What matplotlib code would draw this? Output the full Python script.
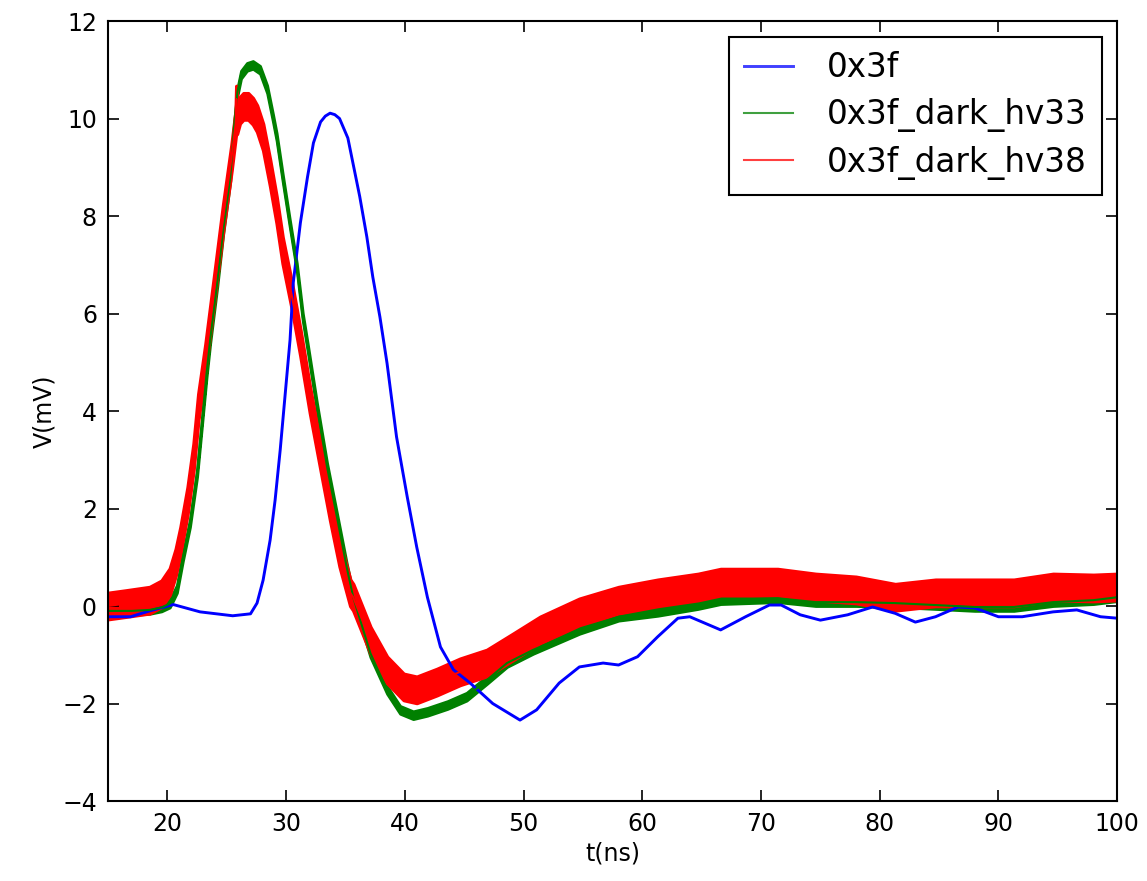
import numpy as np
import matplotlib
matplotlib.use('Agg')
import matplotlib.pyplot as plt

# 0x3f (blue)
t_blue = [15, 16.9, 18.5, 20.5, 22.75, 25.5, 27, 27.55, 28.06, 28.65, 29.07, 29.5, 29.9,
          30.33, 30.6, 31.2, 31.8, 32.3, 32.9, 33.3, 33.7, 34.1, 34.5, 35.2, 35.7, 36.2,
          36.8, 37.3, 37.9, 38.5, 39.3, 40.2, 41.0, 41.9, 43.0, 44.1, 45.5, 47.4, 49.7,
          51.1, 53.0, 54.7, 56.7, 58.0, 59.6, 61.3, 63.0, 64.0, 66.6, 68.7, 70.7, 71.7,
          73.3, 75.0, 77.3, 79.4, 81.3, 83.0, 84.7, 86.6, 88.0, 90.0, 92.0, 94.6, 96.6,
          98.6, 100]
v_blue = [-0.22, -0.22, -0.1, 0.03, -0.12, -0.2, -0.16, 0.06, 0.53, 1.35, 2.17, 3.2, 4.29,
          5.46, 6.63, 7.86, 8.8, 9.5, 9.93, 10.05, 10.11, 10.08, 10.0, 9.6, 9.0, 8.4,
          7.57, 6.75, 5.93, 4.98, 3.47, 2.24, 1.21, 0.18, -0.84, -1.31, -1.58, -2.0, -2.34,
          -2.13, -1.58, -1.25, -1.17, -1.21, -1.04, -0.63, -0.25, -0.22, -0.49, -0.22, 0.02, 0.02,
          -0.18, -0.29, -0.18, -0.02, -0.15, -0.33, -0.22, -0.02, -0.04, -0.22, -0.22, -0.12, -0.08,
          -0.22, -0.25]

# 0x3f_dark_hv33 (green), centre of the noisy trace
t_green = [15, 17, 18.5, 19.5, 20.2, 20.8, 21.3, 21.9, 22.5, 22.9, 23.3, 23.6, 24.2, 24.7,
           25.3, 25.6, 25.9, 26.2, 26.7, 27.2, 27.8, 28.4, 28.9, 29.2, 29.7, 30.3, 30.9, 31.4,
           31.85, 32.6, 33.45, 34.3, 35.1, 35.65, 37.1, 38.5, 39.6, 40.7, 41.9, 43.6, 45.2,
           46.9, 48.6, 50.8, 54.7, 58.0, 61.3, 64.7, 66.6, 71.4, 74.6, 78.0, 81.3, 84.7,
           88.0, 91.3, 94.6, 98.0, 100]
v_green = [-0.1, -0.1, -0.08, -0.03, 0.05, 0.35, 1.0, 1.7, 2.73, 3.75, 4.78, 5.46, 6.63, 7.71,
           8.8, 9.8, 10.55, 10.9, 11.06, 11.1, 11.0, 10.6, 10.0, 9.62, 8.8, 7.86, 6.95, 5.93,
           5.25, 4.08, 2.85, 1.8, 0.8, 0.18, -0.97, -1.72, -2.13, -2.24, -2.17, -2.03, -1.86,
           -1.52, -1.17, -0.9, -0.49, -0.22, -0.12, 0.02, 0.12, 0.16, 0.08, 0.08, 0.06, 0.02,
           -0.02, -0.02, 0.08, 0.12, 0.18]
green_noise = 0.08

# 0x3f_dark_hv38 (red), centre of the noisy trace
t_red = [15, 16.5, 18.5, 19.5, 20.2, 20.7, 21.1, 21.7, 22.2, 22.6, 23.2, 24.0, 24.7, 25.4,
         25.75, 25.8, 25.85, 26.1, 26.4, 26.8, 27.2, 27.55, 28.06, 28.65, 29.2, 29.7, 30.5,
         31.2, 32.0, 32.9, 33.7, 34.5, 35.4, 35.65, 37.1, 38.5, 39.9, 41.0, 42.7, 44.65,
         46.9, 49.1, 51.4, 54.7, 58.0, 61.3, 64.7, 66.6, 71.4, 74.6, 78.0, 81.3, 84.7,
         88.0, 91.3, 94.6, 98.0, 100]
v_red = [0.0, 0.05, 0.12, 0.25, 0.5, 0.9, 1.35, 2.17, 3.06, 4.08, 5.1, 6.63, 7.98, 9.2,
         9.9, 10.4, 9.95, 10.17, 10.25, 10.25, 10.15, 10.0, 9.62, 8.88, 8.12, 7.3, 6.34,
         5.4, 4.23, 3.06, 2.03, 1.08, 0.27, 0.18, -0.7, -1.31, -1.66, -1.72, -1.56, -1.35,
         -1.17, -0.84, -0.49, -0.12, 0.12, 0.27, 0.39, 0.49, 0.49, 0.39, 0.33, 0.18, 0.27,
         0.27, 0.27, 0.39, 0.37, 0.39]
red_noise = 0.27

fig = plt.figure(figsize=(11.47, 8.81), dpi=100)
ax = fig.add_axes([0.0942, 0.0908, 0.8798, 0.8853])

ax.plot(t_blue, v_blue, color='b', lw=2.1, label='0x3f')

tg, vg = np.array(t_green), np.array(v_green)
ax.fill_between(tg, vg - green_noise, vg + green_noise, color='g', lw=2, edgecolor='g')
ax.plot(tg, vg, color='g', lw=1.5, label='0x3f_dark_hv33')

tr, vr = np.array(t_red), np.array(v_red)
ax.fill_between(tr, vr - red_noise, vr + red_noise, color='r', lw=2.5, edgecolor='r')
ax.plot(tr, vr, color='r', lw=1.5, label='0x3f_dark_hv38')

ax.set_xlim(15, 100)
ax.set_ylim(-4, 12)
ax.set_xticks([20, 30, 40, 50, 60, 70, 80, 90, 100])
ax.set_yticks(range(-4, 13, 2))
ax.tick_params(direction='in', top=True, right=True, length=8, width=1.2, labelsize=17, pad=8)
for s in ax.spines.values():
    s.set_linewidth(1.5)

ax.set_xlabel('t(ns)', fontsize=17)
ax.set_ylabel('V(mV)', fontsize=17)

leg = ax.legend(loc='upper right', fontsize=23.5, fancybox=False, framealpha=1,
                borderaxespad=0.48, borderpad=0.45, labelspacing=0.42,
                handlelength=1.5, handletextpad=1.05)
leg.get_frame().set_edgecolor('black')
leg.get_frame().set_linewidth(1.5)
for line in leg.get_lines():
    line.set_alpha(0.75)

fig.savefig('out.png', dpi=100)
